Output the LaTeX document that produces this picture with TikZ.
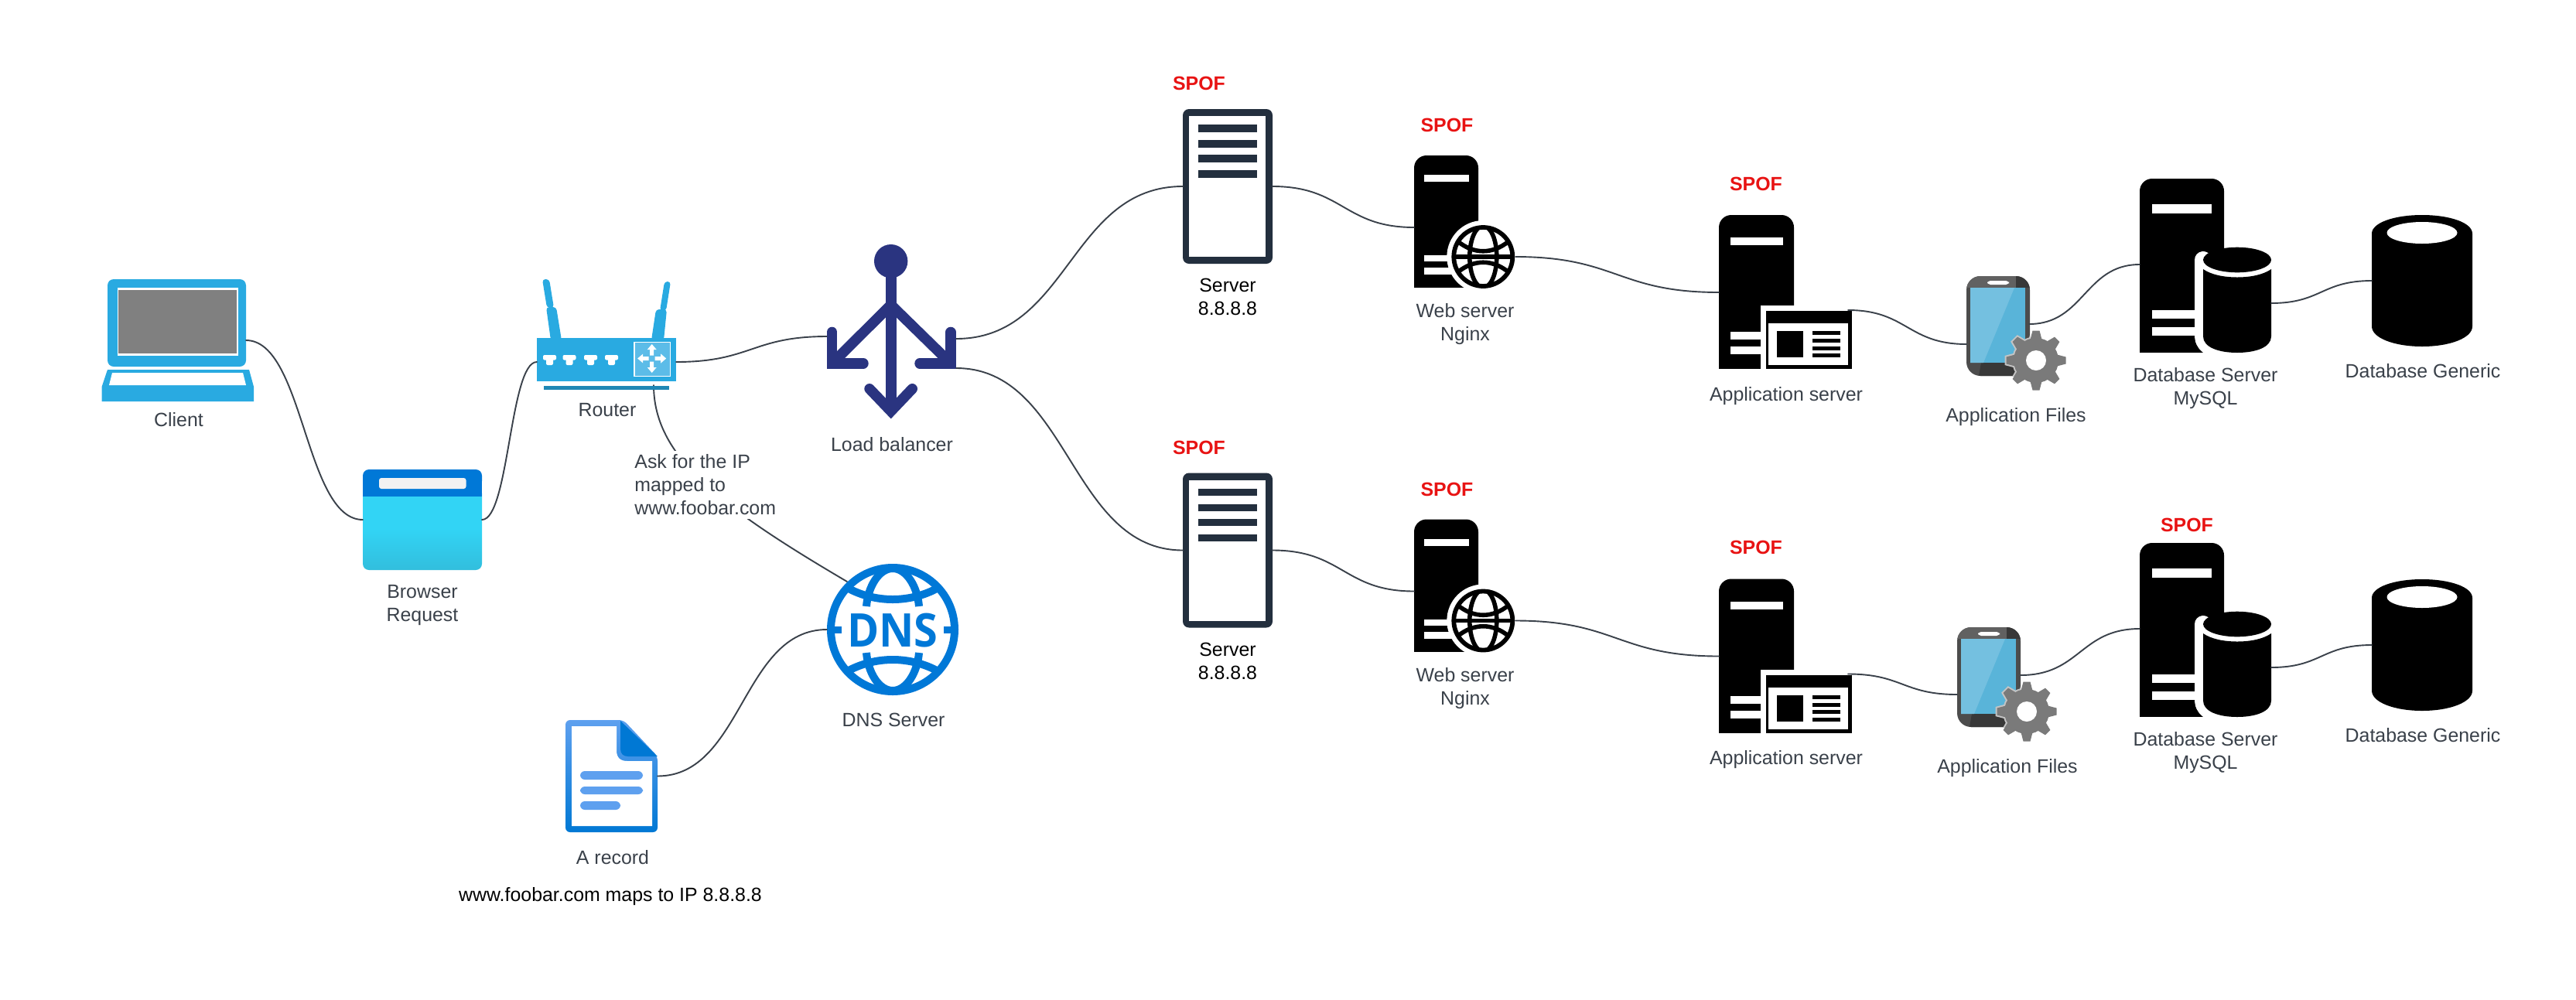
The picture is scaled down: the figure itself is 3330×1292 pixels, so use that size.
\documentclass[tikz,border=0pt]{standalone}
\usepackage{fontspec}
\setmainfont{Liberation Sans}
\newfontfamily\dnsfont{Open Sans}
\usetikzlibrary{fit}
\definecolor{ink}{HTML}{3A414A}
\definecolor{wirec}{HTML}{3A414A}
\definecolor{spofred}{HTML}{E81313}
\definecolor{lapblue}{HTML}{29AAE1}
\definecolor{barblue}{HTML}{1F87B5}
\definecolor{panelblue}{HTML}{5CBCE8}
\definecolor{azure}{HTML}{0078D7}
\definecolor{cyanA}{HTML}{32D4F5}
\definecolor{cyanB}{HTML}{32BEDD}
\definecolor{lbnavy}{HTML}{2A3480}
\definecolor{srvnavy}{HTML}{232F3E}
\definecolor{docl}{HTML}{5EA0EF}
\definecolor{docd}{HTML}{0078D4}
\definecolor{screenA}{HTML}{59B4D9}
\definecolor{screenB}{HTML}{74C0E0}
\definecolor{gearg}{HTML}{7A7A7A}
\definecolor{gearh}{HTML}{C4C4C4}
\tikzset{
  wire/.style={draw=wirec,line width=0.95pt,line cap=round},
  hitbox/.style={inner sep=0pt,outer sep=0pt},
  lbl/.style={font=\fontsize{12.45}{15}\selectfont,text=ink,align=center,inner sep=0pt},
  lblk/.style={lbl,text=black},
  spof/.style={font=\fontsize{12.45}{15}\selectfont\bfseries,text=spofred,inner sep=0pt,anchor=base},
}
\newcommand\hit[5]{\node[hitbox,fit={(#2,#3) (#4,#5)}] (#1) {};}
\newcommand\wire[3]{\draw[wire] (#1) .. controls +(#3,0) and +(-#3,0) .. (#2);}
% server with four bars
\newcommand\servericon[1]{%
  \fill[srvnavy,rounded corners=4] (1529,141+#1) rectangle (1645,341+#1);
  \fill[white] (1537,150+#1) rectangle (1636,332+#1);
  \foreach \yy in {161,181,200,220}{\fill[srvnavy] (1548.5,\yy+#1) rectangle (1625,\yy+9.5+#1);}
}
% black tower: x0 y0 x1 y1
\newcommand\tower[4]{%
  \fill[black,rounded corners=8] (#1,#2) rectangle (#3,#4-30);
  \fill[black] (#1,#2+30) rectangle (#3,#4);
}
\newcommand\webicon[1]{%
  \tower{1828}{201+#1}{1911}{372+#1}
  \fill[white] (1841,226+#1) rectangle (1899,235+#1);
  \fill[white] (1841,330+#1) rectangle (1890,338+#1);
  \fill[white] (1841,346+#1) rectangle (1890,355+#1);
  \begin{scope}[shift={(1917.3,332+#1)}]
    \fill[white] (0,0) circle[radius=47];
    \begin{scope}
      \clip (0,0) circle[radius=40];
      \draw[black,line width=2.8pt] (0,0) ellipse[x radius=17.5,y radius=40];
      \draw[black,line width=2.8pt] (-40,0) -- (40,0);
      \draw[black,line width=2.8pt] (-33,-20) .. controls (-12,-3) and (12,-3) .. (33,-20);
      \draw[black,line width=2.8pt] (-33,20) .. controls (-12,3) and (12,3) .. (33,20);
    \end{scope}
    \draw[black,line width=2.9pt] (0,0) circle[radius=38];
  \end{scope}
}
\newcommand\appicon[1]{%
  \tower{2222}{278+#1}{2319}{477+#1}
  \fill[white] (2237,307+#1) rectangle (2305,317+#1);
  \fill[white] (2237,429+#1) rectangle (2276,439+#1);
  \fill[white] (2237,448+#1) rectangle (2276,458+#1);
  \fill[white] (2276,395+#1) rectangle (2396,480+#1);
  \fill[black] (2283,402+#1) rectangle (2394,477+#1);
  \fill[white] (2286,418+#1) rectangle (2389,472+#1);
  \fill[black] (2297,428+#1) rectangle (2331,462+#1);
  \foreach \yy in {428,438,447.5,457}{\fill[black] (2343,\yy+#1) rectangle (2379,\yy+5+#1);}
}
% phone with gear, origin at phone top-left
\newcommand\gearbody[1]{%
  \path[#1] (0,0) circle[radius=29];
  \foreach \aa in {0,45,...,315}{
    \path[#1,rotate=\aa] (-7.5,-27) -- (-4.5,-38.5) -- (4.5,-38.5) -- (7.5,-27) -- cycle;
  }
}
\newcommand\phoneicon[2]{%
  \begin{scope}[shift={(#1,#2)}]
    \fill[black!70,rounded corners=9] (0,0) rectangle (82,129);
    \begin{scope}
      \clip[rounded corners=9] (0,0) rectangle (82,129);
      \fill[black!62] (0,0) rectangle (64,15);
      \fill[black!78] (64,0) rectangle (82,15);
      \fill[black!78] (19,112) -- (82,112) -- (82,129) -- (16,129) -- cycle;
    \end{scope}
    \fill[screenA] (5,15) rectangle (76,112);
    \fill[screenB] (5,15) -- (62,15) -- (22,112) -- (5,112) -- cycle;
    \fill[white,rounded corners=2] (27,6) rectangle (55,11);
    \begin{scope}[shift={(90,109)}]
      \begin{scope}
        \clip (-90,-109) rectangle (-8,20);
        \gearbody{draw=gearh,line width=2pt,fill=gearh}
      \end{scope}
      \gearbody{fill=gearg}
      \fill[white] (0,0) circle[radius=13];
    \end{scope}
  \end{scope}
}
\newcommand\dbicon[1]{%
  \tower{2766}{231+#1}{2875}{456+#1}
  \fill[white] (2782,264+#1) rectangle (2859,276+#1);
  \fill[white] (2782,401+#1) rectangle (2840,412+#1);
  \fill[white] (2782,423+#1) rectangle (2840,434+#1);
  \begin{scope}[shift={(2892,#1)}]
    \path[fill=white,draw=white,line width=11pt,line join=round]
      (-44,336) arc[start angle=180,end angle=0,x radius=44,y radius=16]
      -- (44,435) .. controls (44,449) and (24,456) .. (0,456) .. controls (-24,456) and (-44,449) .. (-44,435) -- cycle;
    \fill[black] (0,336) ellipse[x radius=44,y radius=16.3];
    \fill[black] (-44,348) .. controls (-34,355) and (-18,358.5) .. (0,358.5) .. controls (18,358.5) and (34,355) .. (44,348)
      -- (44,435) .. controls (44,449) and (24,456) .. (0,456) .. controls (-24,456) and (-44,449) .. (-44,435) -- cycle;
  \end{scope}
}
\newcommand\genericicon[1]{%
  \begin{scope}[shift={(3131,#1)}]
    \fill[black] (-65,302) .. controls (-65,288) and (-36,278) .. (0,278) .. controls (36,278) and (65,288) .. (65,302)
      -- (65,422) .. controls (65,437) and (36,448) .. (0,448) .. controls (-36,448) and (-65,437) .. (-65,422) -- cycle;
    \fill[white] (0,301) ellipse[x radius=45.5,y radius=14];
  \end{scope}
}
\begin{document}
\begin{tikzpicture}[x=0.5pt,y=-0.5pt]
\useasboundingbox (0,0) rectangle (3330,1292);
\fill[white] (0,0) rectangle (3330,1292);

% ---- named nodes and ports
\hit{client}{131}{361}{318}{519}
\hit{browser}{469}{607}{623}{737}
\hit{router}{694}{437}{874}{499}
\hit{lb}{1069}{317}{1236}{541}
\hit{dns}{1069}{729}{1239}{899}
\hit{arec}{731}{931}{850}{1076}
\hit{serverA}{1529}{141}{1645}{341}
\hit{serverB}{1529}{611.5}{1645}{811.5}
\coordinate (routerS) at (845,498);
\coordinate (dnsNW) at (1095,752);
\coordinate (lbL) at (1069,435);
\coordinate (lbRa) at (1236,438);
\coordinate (lbRb) at (1236,476);
\coordinate (webAin) at (1828,294);
\coordinate (webAout) at (1959,332);
\coordinate (webBin) at (1828,764.5);
\coordinate (webBout) at (1959,802.5);
\coordinate (appAin) at (2222,378);
\coordinate (appAout) at (2389,401);
\coordinate (appBin) at (2222,848.5);
\coordinate (appBout) at (2389,871.5);
\coordinate (phoneAin) at (2542,445);
\coordinate (phoneAout) at (2623,419);
\coordinate (phoneBin) at (2530,898);
\coordinate (phoneBout) at (2612,873);
\coordinate (dbAin) at (2766,342);
\coordinate (dbAout) at (2936,392);
\coordinate (dbBin) at (2766,813);
\coordinate (dbBout) at (2936,863);
\coordinate (genAin) at (3066,363);
\coordinate (genBin) at (3066,834);

% wire behind the router
\draw[wire] (routerS) .. controls (845,590) and (930,655) .. (dnsNW);

% ---- laptop
\fill[lapblue,rounded corners=4] (139,361) rectangle (318,474);
\fill[white] (151.5,372) rectangle (307.5,460);
\fill[gray] (153,375) rectangle (306,457);
\fill[lapblue] (139,478) -- (322,478) -- (328,500) -- (328,519) -- (131.6,519) -- (131.6,500) -- cycle;
\fill[white] (145,482) -- (314,482) -- (318,498) -- (141,498) -- cycle;

% ---- browser
\shade[top color=cyanA,bottom color=cyanB,middle color=cyanA,rounded corners=4] (469,630) rectangle (623,737);
\fill[azure,rounded corners=4] (469,607) rectangle (623,630);
\fill[azure] (469,618) rectangle (623,642);
\fill[black!5,rounded corners=1.5] (490,618) rectangle (602.5,632);

% ---- router
\fill[lapblue,rounded corners=2] (701,361) -- (710,361) -- (716,398) -- (707,398) -- cycle;
\fill[lapblue,rounded corners=2] (706,397) -- (719,397) -- (726,440) -- (712,440) -- cycle;
\fill[lapblue,rounded corners=2] (859,364) -- (867,364) -- (861,402) -- (853,402) -- cycle;
\fill[lapblue,rounded corners=2] (848,400) -- (862,400) -- (858,440) -- (842,440) -- cycle;
\fill[lapblue] (694,437) rectangle (874,493);
\fill[barblue] (702.6,499) rectangle (865,504);
\foreach \px in {702,727.5,755,782}{
  \fill[white,rounded corners=1] (\px,459) rectangle (\px+17,465.5);
  \fill[white,rounded corners=1] (\px+4,463) rectangle (\px+13,472);
}
\fill[panelblue,draw=white,line width=0.8pt] (820,442.3) rectangle (866.5,486.5);
\begin{scope}[shift={(842.7,463.5)}]
  \foreach \aa in {0,90,180,270}{
    \fill[white,rotate=\aa] (-2.5,-4) -- (-2.5,-11.5) -- (-6,-11.5) -- (0,-18.5) -- (6,-11.5) -- (2.5,-11.5) -- (2.5,-4) -- cycle;
  }
\end{scope}

% ---- load balancer
\fill[lbnavy] (1151.7,337.7) circle[radius=21.7];
\draw[lbnavy,line width=6.8pt] (1151.7,350) -- (1151.7,531);
\draw[lbnavy,line width=6.7pt] (1151.7,394.2) -- (1075.7,469.8);
\draw[lbnavy,line width=6.7pt] (1151.7,394.2) -- (1229,469.8);
\draw[lbnavy,line width=6.7pt,line cap=round,miter limit=10] (1075.7,429.4) -- (1075.7,469.8) -- (1116,469.8);
\draw[lbnavy,line width=6.7pt,line cap=round,miter limit=10] (1229,429.4) -- (1229,469.8) -- (1189,469.8);
\draw[lbnavy,line width=6.7pt,line cap=round,miter limit=10] (1124,502.7) -- (1151.7,531.7) -- (1179.3,502.7);

% ---- DNS globe
\begin{scope}[shift={(1154,814)}]
  \begin{scope}
    \clip (0,0) circle[radius=82];
    \draw[azure,line width=5pt] (-34,-30) .. controls (-32,-55) and (-18,-79) .. (0,-79) .. controls (18,-79) and (32,-55) .. (34,-30);
    \draw[azure,line width=5pt] (-34,30) .. controls (-32,55) and (-18,79) .. (0,79) .. controls (18,79) and (32,55) .. (34,30);
    \draw[azure,line width=5pt] (-64,-57) .. controls (-25,-33) and (25,-33) .. (64,-57);
    \draw[azure,line width=5pt] (-64,57) .. controls (-25,33) and (25,33) .. (64,57);
    \fill[azure] (-82,-4.5) rectangle (-66,4.5);
    \fill[azure] (66,-4.5) rectangle (82,4.5);
  \end{scope}
  \draw[azure,line width=5pt] (0,0) circle[radius=80];
\end{scope}
\node[inner sep=0pt,text=azure,font=\dnsfont\bfseries\fontsize{30}{30}\selectfont,xscale=0.93] (dnstext) at (1154,815) {DNS};

% ---- A record document
\shade[top color=docl,bottom color=docd,rounded corners=3] (731,931) -- (806,931) -- (850,978) -- (850,1076) -- (731,1076) -- cycle;
\fill[white] (739,939) -- (797,939) -- (797,970) .. controls (797,980) and (802,984) .. (811,984) -- (843,984) -- (843,1068) -- (739,1068) -- cycle;
\fill[docd] (802,932) -- (850,978) -- (812,978) .. controls (806,978) and (802,975) .. (802,968) -- cycle;
\fill[docl,rounded corners=3] (750,997) rectangle (831,1008);
\fill[docl,rounded corners=3] (750,1017) rectangle (831,1027);
\fill[docl,rounded corners=3] (750,1036) rectangle (802,1047);

% ---- two rows of servers
\servericon{0}
\servericon{470.5}
\webicon{0}
\webicon{470.5}
\appicon{0}
\appicon{470.5}
\phoneicon{2542}{357}
\phoneicon{2530}{811}
\dbicon{0}
\dbicon{471}
\genericicon{0}
\genericicon{471}

% ---- wires
\wire{client.east}{browser.west}{75}
\wire{browser.east}{router.west}{35}
\wire{router.east}{lbL}{97}
\wire{lbRa}{serverA.west}{146}
\wire{lbRb}{serverB.west}{146}
\wire{serverA.east}{webAin}{91}
\wire{serverB.east}{webBin}{91}
\wire{webAout}{appAin}{131}
\wire{webBout}{appBin}{131}
\wire{appAout}{phoneAin}{76}
\wire{appBout}{phoneBin}{70}
\wire{phoneAout}{dbAin}{71}
\wire{phoneBout}{dbBin}{77}
\wire{dbAout}{genAin}{65}
\wire{dbBout}{genBin}{65}
\wire{arec.east}{dns.west}{110}

% ---- labels
\node[lbl,anchor=base] (tClient) at (231,551) {Client};
\node[lbl] (tBrowser) at (546,783) {Browser\\Request};
\node[lbl,anchor=base] (tRouter) at (785,538) {Router};
\node[lbl,anchor=west,align=left,fill=white,inner sep=2.5pt] (tAsk) at (815,627) {Ask for the IP\\mapped to\\www.foobar.com};
\node[lbl,anchor=base] (tLB) at (1153,583) {Load balancer};
\node[lbl,anchor=base] (tDNS) at (1155,939) {DNS Server};
\node[lbl,anchor=base] (tArec) at (792,1117) {A record};
\node[lblk,anchor=base] (tMaps) at (789,1165) {www.foobar.com maps to IP 8.8.8.8};

\node[lblk] (tSrvA) at (1587,384) {Server\\8.8.8.8};
\node[lblk] (tSrvB) at (1587,854.5) {Server\\8.8.8.8};
\node[lbl] (tWebA) at (1894,419.5) {Web server\\Nginx};
\node[lbl] (tWebB) at (1894,890) {Web server\\Nginx};
\node[lbl,anchor=base] (tAppA) at (2309,518) {Application server};
\node[lbl,anchor=base] (tAppB) at (2309,988.5) {Application server};
\node[lbl,anchor=base] (tFilesA) at (2606,545.5) {Application Files};
\node[lbl,anchor=base] (tFilesB) at (2595,999) {Application Files};
\node[lbl] (tDbA) at (2851,502.5) {Database Server\\MySQL};
\node[lbl] (tDbB) at (2851,973.5) {Database Server\\MySQL};
\node[lbl,anchor=base] (tGenA) at (3132,488) {Database Generic};
\node[lbl,anchor=base] (tGenB) at (3132,959) {Database Generic};

\node[spof] (sA1) at (1550,116.5) {SPOF};
\node[spof] (sB1) at (1550,587) {SPOF};
\node[spof] (sA2) at (1870.5,170.5) {SPOF};
\node[spof] (sB2) at (1870.5,641) {SPOF};
\node[spof] (sA3) at (2270,246) {SPOF};
\node[spof] (sB3) at (2270,716.5) {SPOF};
\node[spof] (sB4) at (2827,687) {SPOF};
\end{tikzpicture}
\end{document}
